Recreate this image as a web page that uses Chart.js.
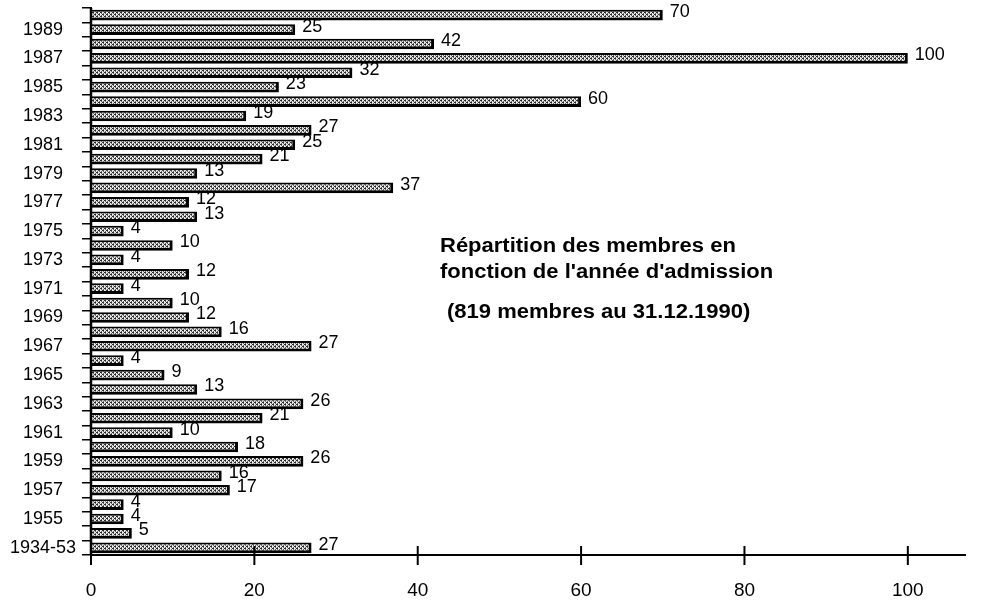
<!DOCTYPE html>
<html><head><meta charset="utf-8">
<script src="https://cdn.jsdelivr.net/npm/chart.js@4"></script>
<style>html,body{margin:0;padding:0;background:#fff}#wrap{width:992px;height:605px}</style>
</head><body><div id="wrap"><canvas id="c"></canvas></div>
<script>
const categories = ['1934-53','1954','1955','1956','1957','1958','1959','1960','1961','1962','1963','1964','1965','1966','1967','1968','1969','1970','1971','1972','1973','1974','1975','1976','1977','1978','1979','1980','1981','1982','1983','1984','1985','1986','1987','1988','1989','1990'];
const members = [27,5,4,4,17,16,26,18,10,21,26,13,9,4,27,16,12,10,4,12,4,10,4,13,12,37,13,21,25,27,19,60,23,32,100,42,25,70];
const xTicks = [0,20,40,60,80,100];
const noteLines = ["Répartition des membres en", "fonction de l'année d'admission", "(819 membres au 31.12.1990)"];

function makePattern(){
  const p=document.createElement('canvas'); p.width=4; p.height=4;
  const g=p.getContext('2d');
  g.fillStyle='#e6e6e6'; g.fillRect(0,0,4,4);
  g.fillStyle='#2a2a2a';
  g.fillRect(0,0,2,1); g.fillRect(2,2,2,1);
  g.fillStyle='#6a6a6a';
  g.fillRect(1,1,1,1); g.fillRect(3,3,1,1); g.fillRect(3,1,1,1); g.fillRect(1,3,1,1);
  return g.createPattern(p,'repeat');
}
const FONT='"Liberation Sans", Arial, Helvetica, sans-serif';

const extras = {
  id:'extras',
  afterDatasetsDraw(chart){
    const ctx=chart.ctx; const meta=chart.getDatasetMeta(0); const ca=chart.chartArea;
    ctx.save();
    ctx.fillStyle='#000'; ctx.font='18px '+FONT; ctx.textBaseline='middle'; ctx.textAlign='left';
    meta.data.forEach((bar,i)=>{ ctx.fillText(String(members[i]), bar.x+7, bar.y-3); });
    const xs=chart.scales.x; const y0=ca.bottom;
    ctx.strokeStyle='#000'; ctx.lineWidth=2.5;
    ctx.beginPath(); ctx.moveTo(ca.left,ca.top); ctx.lineTo(ca.left,ca.bottom); ctx.stroke();
    ctx.lineWidth=2;
    xTicks.forEach(v=>{ const px=xs.getPixelForValue(v); ctx.beginPath(); ctx.moveTo(px,y0-9); ctx.lineTo(px,y0+10); ctx.stroke(); });
    ctx.font='bold 20px '+FONT; ctx.textBaseline='alphabetic';
    const draw=(t,x,y)=>{ ctx.save(); ctx.translate(x,y); ctx.scale(1.1,1); ctx.fillText(t,0,0); ctx.restore(); };
    draw(noteLines[0],440,252);
    draw(noteLines[1],440,278);
    draw(noteLines[2],447,318);
    ctx.restore();
  }
};

new Chart(document.getElementById('c'),{
  type:'bar',
  data:{labels:categories,datasets:[{data:members,backgroundColor:makePattern(),borderColor:'#000',
    borderWidth:{top:2,bottom:3,left:1,right:3},borderSkipped:false,barPercentage:0.74,categoryPercentage:1}]},
  options:{
    indexAxis:'y',responsive:true,maintainAspectRatio:false,animation:false,
    layout:{padding:{top:8,right:27,bottom:0,left:0}},
    plugins:{legend:{display:false},tooltip:{enabled:false}},
    scales:{
      x:{min:0,max:107,
        afterBuildTicks(s){ s.ticks=xTicks.map(v=>({value:v})); },
        afterFit(s){ s.height=50; s.paddingLeft=0; s.paddingRight=0; },
        border:{display:true,color:'#000',width:2},
        grid:{display:false,drawOnChartArea:false},
        ticks:{color:'#000',font:{size:19,family:FONT},padding:16}
      },
      y:{reverse:true,
        afterFit(s){ s.width=91; s.paddingTop=0; s.paddingBottom=0; },
        border:{display:true,color:'#000',width:2},
        grid:{display:true,drawOnChartArea:false,tickLength:9,color:'#000',lineWidth:1.5,offset:true},
        ticks:{autoSkip:false,crossAlign:'center',color:'#000',font:{size:18,family:FONT},padding:6,
          callback(v,i){ return i%2===0 ? categories[i] : ''; }}
      }
    }
  },
  plugins:[extras]
});
</script></body></html>
